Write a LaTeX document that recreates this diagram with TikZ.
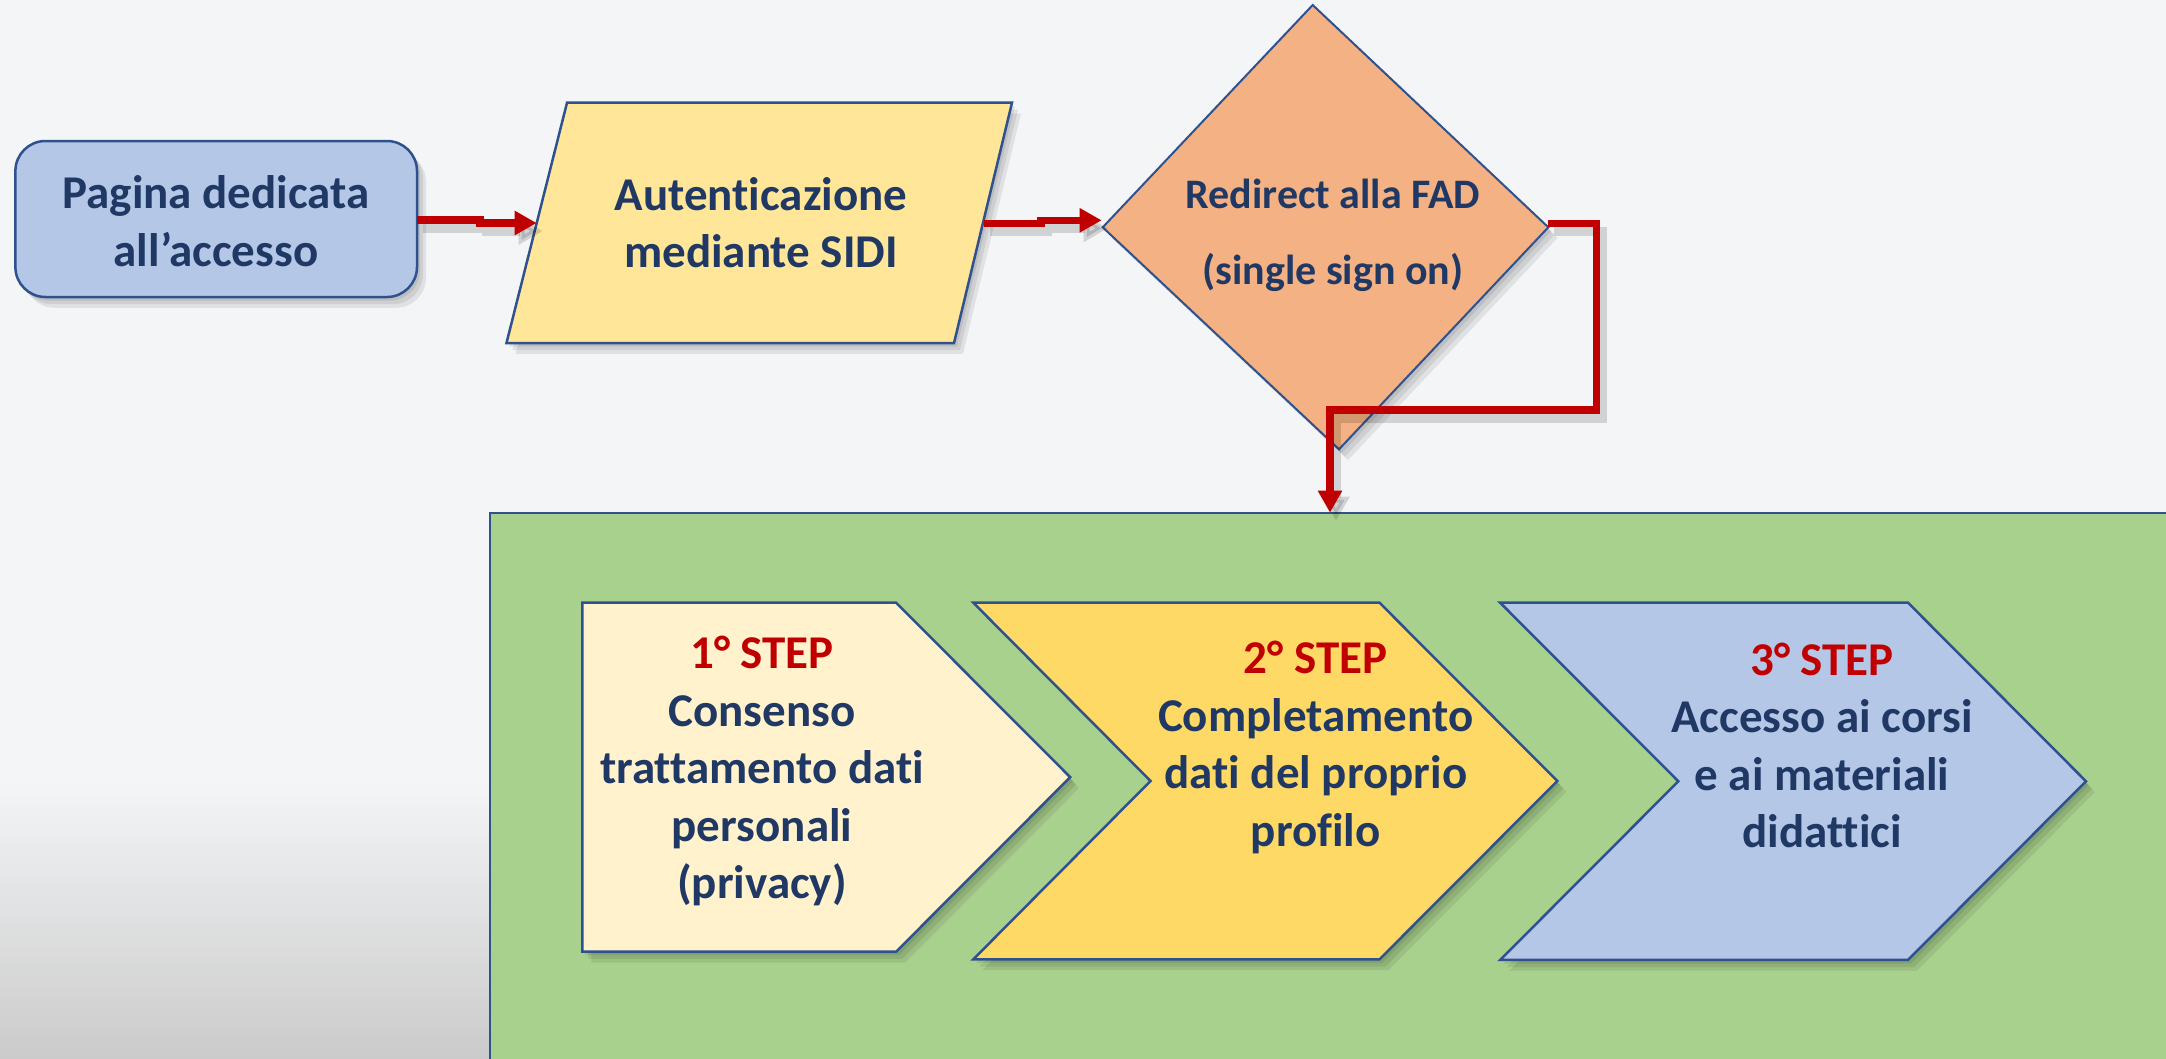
\documentclass[tikz,border=0pt]{standalone}
\usepackage{fontspec}
\setmainfont{Carlito}[Ligatures={NoCommon,NoContextual}]
\usetikzlibrary{arrows.meta}
\definecolor{bgc}{HTML}{F4F5F7}
\definecolor{bgdark}{HTML}{CBCBCB}
\definecolor{navy}{HTML}{203864}
\definecolor{stepred}{HTML}{C00000}
\definecolor{edgeblue}{HTML}{2F528F}
\definecolor{fillpag}{HTML}{B4C7E7}
\definecolor{fillaut}{HTML}{FFE699}
\definecolor{fillred}{HTML}{F4B183}
\definecolor{fillgreen}{HTML}{A9D18E}
\definecolor{fillone}{HTML}{FFF2CC}
\definecolor{filltwo}{HTML}{FFD966}
\definecolor{fillthree}{HTML}{B4C7E7}
\newcommand{\softshadow}[1]{\foreach \d in {3,6,9}{\fill[black,opacity=0.08,shift={(\d,1.2*\d)}] #1;}}
\begin{document}
\begin{tikzpicture}[x=1pt,y=-1pt,
  boxline/.style={draw=edgeblue,line width=2.5pt,line join=miter},
  lbl/.style={align=center,text=navy,inner sep=0pt,font=\bfseries\fontsize{47}{57.5}\selectfont},
  dlbl/.style={align=center,text=navy,inner sep=0pt,font=\bfseries\fontsize{42}{76}\selectfont},
  conn/.style={draw=stepred,line width=7.5pt,-{Triangle[length=22pt,width=23pt]}},
  connshadow/.style={draw=black,opacity=0.14,line width=9pt,-{Triangle[length=24pt,width=26pt]},transform canvas={shift={(6,8)}}}]
\useasboundingbox (0,0) rectangle (2166,1058);
% background
\fill[bgc] (0,0) rectangle (2166,1058);
\shade[top color=bgc, bottom color=bgdark] (0,780) rectangle (2166,1058);
% green container
\draw[fill=fillgreen,draw=edgeblue,line width=2.7pt] (490,513) rectangle (2200,1090);

% rounded box
\softshadow{[rounded corners=30] (15.4,141) rectangle (417,297)}
\draw[boxline,fill=fillpag,rounded corners=30] (15.4,141) rectangle (417,297);
\node[lbl] (pag) at (216,226) {\strut Pagina dedicata\\\strut all’accesso};
\coordinate (pagE) at (417,220);

% parallelogram
\softshadow{(567,102.7) -- (1012,102.7) -- (954,343) -- (506.5,343) -- cycle}
\draw[boxline,fill=fillaut] (567,102.7) -- (1012,102.7) -- (954,343) -- (506.5,343) -- cycle;
\node[lbl] (aut) at (761,227.5) {\strut Autenticazione\\\strut mediante SIDI};
\coordinate (autW) at (536.7,223);
\coordinate (autE) at (984,223.3);

% diamond
\softshadow{(1312.7,5) -- (1548.3,227.3) -- (1339,449.3) -- (1102.7,227.3) -- cycle}
\draw[boxline,line width=2pt,fill=fillred] (1312.7,5) -- (1548.3,227.3) -- (1339,449.3) -- (1102.7,227.3) -- cycle;
\node[dlbl] (red) at (1333,231) {\strut Redirect alla FAD\\\strut (single sign on)};
\coordinate (redW) at (1101.7,220.3);
\coordinate (redE) at (1548.3,223.7);
\coordinate (stepsN) at (1330,512.7);

% chevrons
\softshadow{(582.3,602.7) -- (896.1,602.7) -- (1070.2,777.2) -- (896.1,951.7) -- (582.3,951.7) -- cycle}
\draw[boxline,fill=fillone] (582.3,602.7) -- (896.1,602.7) -- (1070.2,777.2) -- (896.1,951.7) -- (582.3,951.7) -- cycle;
\softshadow{(973.3,602.7) -- (1379.5,602.7) -- (1557.3,781) -- (1379.5,959.3) -- (973.3,959.3) -- (1150.5,781) -- cycle}
\draw[boxline,fill=filltwo] (973.3,602.7) -- (1379.5,602.7) -- (1557.3,781) -- (1379.5,959.3) -- (973.3,959.3) -- (1150.5,781) -- cycle;
\softshadow{(1500.2,602.7) -- (1908,602.7) -- (2086,781.3) -- (1908,959.9) -- (1500.2,959.9) -- (1678.3,781.3) -- cycle}
\draw[boxline,fill=fillthree] (1500.2,602.7) -- (1908,602.7) -- (2086,781.3) -- (1908,959.9) -- (1500.2,959.9) -- (1678.3,781.3) -- cycle;

\node[lbl] (s1) at (762,772) {\strut\textcolor{stepred}{1° STEP}\\\strut Consenso\\\strut trattamento dati\\\strut personali\\\strut (privacy)};
\node[lbl] (s2) at (1315.7,748.5) {\strut\textcolor{stepred}{2° STEP}\\\strut Completamento\\\strut dati del proprio\\\strut profilo};
\node[lbl] (s3) at (1822,750) {\strut\textcolor{stepred}{3° STEP}\\\strut Accesso ai corsi\\\strut e ai materiali\\\strut didattici};

% connectors
\draw[connshadow] (pagE) -- ++(63,0) -- ++(0,3) -- (autW);
\draw[conn] (pagE) -- ++(63,0) -- ++(0,3) -- (autW);
\draw[connshadow] (autE) -- ++(57,0) -- ++(0,-3) -- (redW);
\draw[conn] (autE) -- ++(57,0) -- ++(0,-3) -- (redW);
\draw[connshadow] (redE) -- ++(48,0) -- ++(0,186.3) -- ++(-266.3,0) -- (stepsN);
\draw[conn] (redE) -- ++(48,0) -- ++(0,186.3) -- ++(-266.3,0) -- (stepsN);
\end{tikzpicture}
\end{document}
